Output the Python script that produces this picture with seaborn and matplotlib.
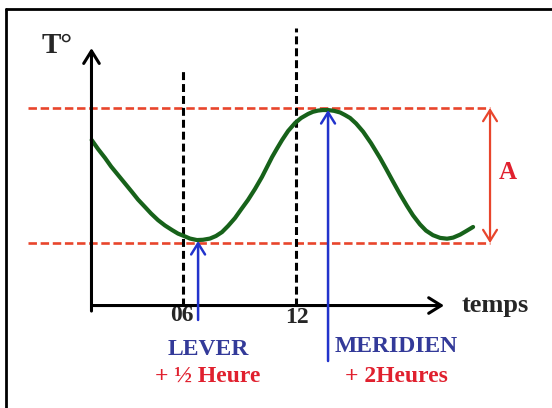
import matplotlib
matplotlib.use("Agg")
import matplotlib.pyplot as plt
from matplotlib.lines import Line2D
import seaborn as sns
import pandas as pd

# courbe de temperature (heures, T arbitraire)
heures = [1.15, 1.49, 1.86, 2.18, 2.55, 2.92, 3.29, 3.61, 3.98, 4.30, 4.67, 5.04,
          5.42, 5.73, 6.05, 6.37, 6.74, 7.06, 7.43, 7.75, 8.07, 8.39, 8.76, 9.08,
          9.45, 9.82, 10.19, 10.46, 10.73, 10.99, 11.26, 11.58, 11.95, 12.27, 12.64,
          12.90, 13.17, 13.43, 13.70, 14.02, 14.34, 14.60, 14.87, 15.19, 15.56, 15.98,
          16.46, 16.78, 17.15, 17.52, 17.89, 18.21, 18.58, 18.90, 19.27, 19.65, 20.02,
          20.34, 20.71, 21.03, 21.40]
temperature = [17.63, 16.96, 16.30, 15.67, 15.04, 14.41, 13.78, 13.22, 12.67, 12.19,
               11.70, 11.30, 10.96, 10.70, 10.52, 10.33, 10.22, 10.24, 10.33, 10.52,
               10.81, 11.26, 11.85, 12.48, 13.19, 14.00, 14.89, 15.63, 16.37, 17.00,
               17.63, 18.30, 18.89, 19.26, 19.56, 19.72, 19.81, 19.85, 19.85, 19.79,
               19.67, 19.48, 19.26, 18.85, 18.25, 17.40, 16.30, 15.50, 14.55, 13.62,
               12.75, 12.05, 11.38, 10.92, 10.58, 10.38, 10.32, 10.40, 10.62, 10.88, 11.19]

t_min = 10.0
t_max = 20.0
ticks = [6, 12]
tick_labels = ["06", "12"]
h_lever = 6.80
h_meridien = 13.70

# limites des axes fleches
x0, x1 = 1.14, 19.86
y0, y1 = 5.37, 24.44

rouge = "#e8452c"
bleu = "#2233cc"
texte_bleu = "#333a99"
texte_rouge = "#e0202e"
vert = "#17621a"

sns.set_style("white")
plt.rcParams["font.family"] = ["Liberation Serif", "DejaVu Serif"]

fig = plt.figure(figsize=(5.52, 4.08), dpi=100)
ax = fig.add_axes([0, 0, 1, 1])
ax.set_xlim(-3.717, 25.59)
ax.set_ylim(-2.22, 28.0)
ax.axis("off")

# cadre (haut et gauche)
fig.add_artist(Line2D([6 / 552, 1], [1 - 9 / 408, 1 - 9 / 408], color="black", lw=2))
fig.add_artist(Line2D([6 / 552, 6 / 552], [0, 1 - 9 / 408], color="black", lw=2))

# lignes rouges min / max
for t in (t_min, t_max):
    ax.plot([-2.23, 22.30], [t, t], color=rouge, lw=1.9, ls=(0, (3.2, 1.4)), zorder=2)

# verticales pointillees noires
ax.plot([ticks[0], ticks[0]], [y0, 22.81], color="black", lw=2.2, ls=(0, (2.6, 1.3)), zorder=2)
ax.plot([ticks[1], ticks[1]], [y0, 25.93], color="black", lw=2.2, ls=(0, (2.6, 1.3)), zorder=2)

# courbe
df = pd.DataFrame({"heure": heures, "T": temperature})
sns.lineplot(data=df, x="heure", y="T", ax=ax, color=vert, lw=3, sort=False, zorder=4,
             solid_joinstyle="round", solid_capstyle="round")
ax.set_xlabel("")
ax.set_ylabel("")

# axes fleches
arrow_axe = dict(arrowstyle="->,head_length=0.45,head_width=0.28", lw=2.2, color="black",
                 shrinkA=0, shrinkB=0, mutation_scale=20)
ax.annotate("", xy=(x0, y1), xytext=(x0, 4.96), arrowprops=arrow_axe, zorder=5)
ax.annotate("", xy=(x1, y0), xytext=(x0, y0), arrowprops=arrow_axe, zorder=5)

# amplitude A
ax.annotate("", xy=(22.30, t_max), xytext=(22.30, t_min),
            arrowprops=dict(arrowstyle="<->,head_length=0.4,head_width=0.25", lw=1.6,
                            color=rouge, shrinkA=0, shrinkB=0, mutation_scale=20))
ax.text(23.26, 15.26, "A", color=texte_rouge, fontsize=18, fontweight="bold",
        ha="center", va="center")

# fleches bleues
arrow_bleu = dict(arrowstyle="->,head_length=0.4,head_width=0.25", lw=1.8, color=bleu,
                  shrinkA=0, shrinkB=0, mutation_scale=20)
ax.annotate("", xy=(h_lever, 10.15), xytext=(h_lever, 4.30), arrowprops=arrow_bleu, zorder=6)
ax.annotate("", xy=(h_meridien, 19.85), xytext=(h_meridien, 1.26), arrowprops=arrow_bleu, zorder=6)

# textes
ax.text(-0.69, 24.07, "T°", fontsize=21, fontweight="bold", ha="center", va="baseline")
ax.text(22.57, 4.89, "temps", fontsize=19, fontweight="bold", ha="center", va="baseline")
ax.text(5.95, 4.62, tick_labels[0], fontsize=17, fontweight="bold", ha="center", va="center")
ax.text(12.05, 4.50, tick_labels[1], fontsize=17, fontweight="bold", ha="center", va="center")
ax.text(7.33, 2.15, "LEVER", color=texte_bleu, fontsize=17, fontweight="bold",
        ha="center", va="center")
ax.text(7.33, 0.15, "+ ½ Heure", color=texte_rouge, fontsize=17, fontweight="bold",
        ha="center", va="center")
ax.text(17.31, 2.30, "MERIDIEN", color=texte_bleu, fontsize=17, fontweight="bold",
        ha="center", va="center")
ax.text(17.31, 0.15, "+ 2Heures", color=texte_rouge, fontsize=17, fontweight="bold",
        ha="center", va="center")

fig.savefig("out.png", dpi=100)
